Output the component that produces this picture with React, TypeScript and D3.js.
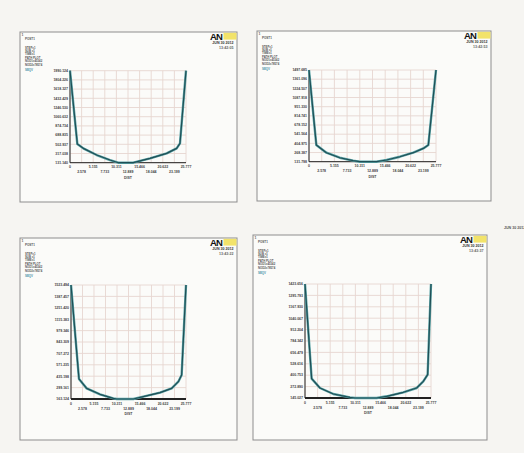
import * as d3 from "d3";

// path distance ticks (shared by all four plots)
const distTicks = ["0", "2.578", "5.155", "7.733", "10.311", "12.889", "15.466", "18.044", "20.622", "23.199", "25.777"];
const distMax = 25.777;

const legendLines = ["STEP=1", "SUB =1", "TIME=1", "PATH PLOT", "NOD1=45342", "NOD2=78574"];

// plot 1
const dist1 = [0, 1.63, 2.96, 5.93, 8.89, 10.74, 14.07, 17.78, 21.48, 23.7, 24.44, 25.777];
const seqv1 = [1990.124, 508, 421, 286, 185, 131.14, 131.14, 219, 320, 421, 522, 1990.124];
const yTicks1 = ["131.140", "317.038", "502.937", "688.835", "874.734", "1060.632", "1246.530", "1432.429", "1618.327", "1804.226", "1990.124"];

// plot 2
const dist2 = [0, 1.49, 3.53, 6.24, 8.95, 10.31, 13.7, 15.74, 18.45, 21.16, 23.2, 24.22, 25.777];
const seqv2 = [1497.685, 380, 266, 191, 147, 131.798, 131.798, 157, 206, 266, 330, 380, 1497.685];
const yTicks2 = ["131.798", "268.387", "404.975", "541.564", "678.152", "814.741", "951.330", "1087.918", "1224.507", "1361.096", "1497.685"];

// plot 3
const dist3 = [0, 1.79, 3.51, 6.5, 9.49, 10.24, 13.97, 16.21, 19.95, 22.56, 24.06, 24.8, 25.777];
const seqv3 = [1523.494, 402, 290, 219, 171, 163.124, 163.124, 191, 239, 290, 370, 449, 1523.494];
const yTicks3 = ["163.124", "299.161", "435.198", "571.235", "707.272", "843.309", "979.346", "1115.383", "1251.420", "1387.457", "1523.494"];

// plot 4
const dist4 = [0, 1.36, 3.07, 5.8, 9.2, 10.23, 14.66, 16.71, 20.12, 22.84, 24.2, 25.09, 25.777];
const seqv4 = [1423.656, 362, 257, 190, 152, 145.027, 145.027, 164, 209, 257, 332, 407, 1423.656];
const yTicks4 = ["145.027", "272.890", "400.753", "528.616", "656.479", "784.342", "912.204", "1040.067", "1167.930", "1295.793", "1423.656"];

const times = ["13:42:05", "13:42:53", "13:43:22", "13:43:37"];

interface Box { x0: number; y0: number; x1: number; y1: number; }

interface PanelProps {
  frame: Box;
  plot: Box;
  dist: number[];
  seqv: number[];
  yTicks: string[];
  time: string;
  axisW: number;
}

const Panel = ({ frame, plot, dist, seqv, yTicks, time, axisW }: PanelProps) => {
  const yMin = +yTicks[0];
  const yMax = +yTicks[yTicks.length - 1];
  const x = d3.scaleLinear().domain([0, distMax]).range([plot.x0, plot.x1]);
  const y = d3.scaleLinear().domain([yMin, yMax]).range([plot.y1, plot.y0]);
  const line = d3.line<number>().x((_, i) => x(dist[i])).y((v) => y(v));
  const xVals = distTicks.map((d) => +d);
  const lf = { fontFamily: "Liberation Sans, Arial, sans-serif", fontWeight: 700 } as const;

  return (
    <g>
      <rect x={frame.x0} y={frame.y0} width={frame.x1 - frame.x0} height={frame.y1 - frame.y0}
        fill="#fbfbf9" stroke="#8d8d8d" strokeWidth={1} />
      <text x={frame.x0 + 1.5} y={frame.y0 + 4} fontSize={3.5} fill="#666" {...lf}>1</text>

      {/* legend block */}
      <text x={frame.x0 + 5} y={frame.y0 + 8} fontSize={3} fill="#555" {...lf}>POST1</text>
      {legendLines.map((t, i) => (
        <text key={t} x={frame.x0 + 5} y={frame.y0 + 16.5 + i * 3.4} fontSize={2.8} fill="#555" {...lf}>{t}</text>
      ))}
      <text x={frame.x0 + 5} y={frame.y0 + 38.5} fontSize={2.9} fill="#3f8fa6" {...lf}>SEQV</text>

      {/* logo, date */}
      <text x={frame.x1 - 27} y={frame.y0 + 7.6} fontSize={9.5} fill="#111" fontFamily="Liberation Sans, Arial" fontWeight={900} letterSpacing={-0.8}>AN</text>
      <rect x={frame.x1 - 13.5} y={frame.y0 + 0.8} width={13} height={6.8} fill="#f2e36a" />
      <text x={frame.x1 - 3.5} y={frame.y0 + 12} fontSize={3.6} textAnchor="end" fill="#333" {...lf}>JUN 30 2012</text>
      <text x={frame.x1 - 3.5} y={frame.y0 + 16.8} fontSize={3.6} textAnchor="end" fill="#666" {...lf}>{time}</text>

      {/* grid */}
      {xVals.map((v, i) => (
        <line key={"gx" + i} x1={x(v)} x2={x(v)} y1={plot.y0} y2={plot.y1} stroke="#e6d6d0" strokeWidth={0.9} />
      ))}
      {yTicks.map((t, i) => (
        <line key={"gy" + i} x1={plot.x0} x2={plot.x1} y1={y(+t)} y2={y(+t)} stroke="#e6d6d0" strokeWidth={0.9} />
      ))}

      {/* axes */}
      <line x1={plot.x0} x2={plot.x0} y1={plot.y0} y2={plot.y1} stroke="#222" strokeWidth={1} />
      <line x1={plot.x0} x2={plot.x1} y1={plot.y1} y2={plot.y1} stroke="#222" strokeWidth={axisW} />

      {/* tick labels */}
      {yTicks.map((t, i) => (
        <text key={"ty" + i} x={plot.x0 - 2} y={y(+t) + 1.3} fontSize={3.5} textAnchor="end" fill="#444" {...lf}>{t}</text>
      ))}
      {distTicks.map((t, i) => (
        <text key={"tx" + i} x={x(+t)} y={plot.y1 + (i % 2 === 0 ? 5.5 : 10.5)} fontSize={3.5} textAnchor="middle" fill="#444" {...lf}>{t}</text>
      ))}
      <text x={(plot.x0 + plot.x1) / 2} y={plot.y1 + 16} fontSize={3.5} textAnchor="middle" fill="#444" {...lf}>DIST</text>

      {/* SEQV path curve */}
      <path d={line(seqv) ?? ""} fill="none" stroke="#5aa3a6" strokeWidth={2.4} strokeLinejoin="round" />
      <path d={line(seqv) ?? ""} fill="none" stroke="#1f4f56" strokeWidth={1.2} strokeLinejoin="round" />
    </g>
  );
};

export default function App() {
  return (
    <svg width={524} height={453} style={{ position: "absolute", left: 0, top: 0 }}>
      <rect width={524} height={453} fill="#f6f5f2" />
      <Panel frame={{ x0: 20, y0: 32, x1: 237, y1: 202 }} plot={{ x0: 70, y0: 70.7, x1: 186, y1: 162.7 }}
        dist={dist1} seqv={seqv1} yTicks={yTicks1} time={times[0]} axisW={1} />
      <Panel frame={{ x0: 257, y0: 31, x1: 491, y1: 201 }} plot={{ x0: 309, y0: 70, x1: 436, y1: 161.7 }}
        dist={dist2} seqv={seqv2} yTicks={yTicks2} time={times[1]} axisW={1} />
      <Panel frame={{ x0: 20, y0: 238, x1: 237, y1: 440 }} plot={{ x0: 71, y0: 285, x1: 186, y1: 399 }}
        dist={dist3} seqv={seqv3} yTicks={yTicks3} time={times[2]} axisW={1.8} />
      <Panel frame={{ x0: 253, y0: 235, x1: 487, y1: 440 }} plot={{ x0: 305, y0: 284, x1: 431, y1: 398 }}
        dist={dist4} seqv={seqv4} yTicks={yTicks4} time={times[3]} axisW={1.8} />
      <text x={504} y={229} fontSize={3.6} fill="#555" fontFamily="Liberation Sans, Arial" fontWeight={700}>JUN 30 2012</text>
    </svg>
  );
}
